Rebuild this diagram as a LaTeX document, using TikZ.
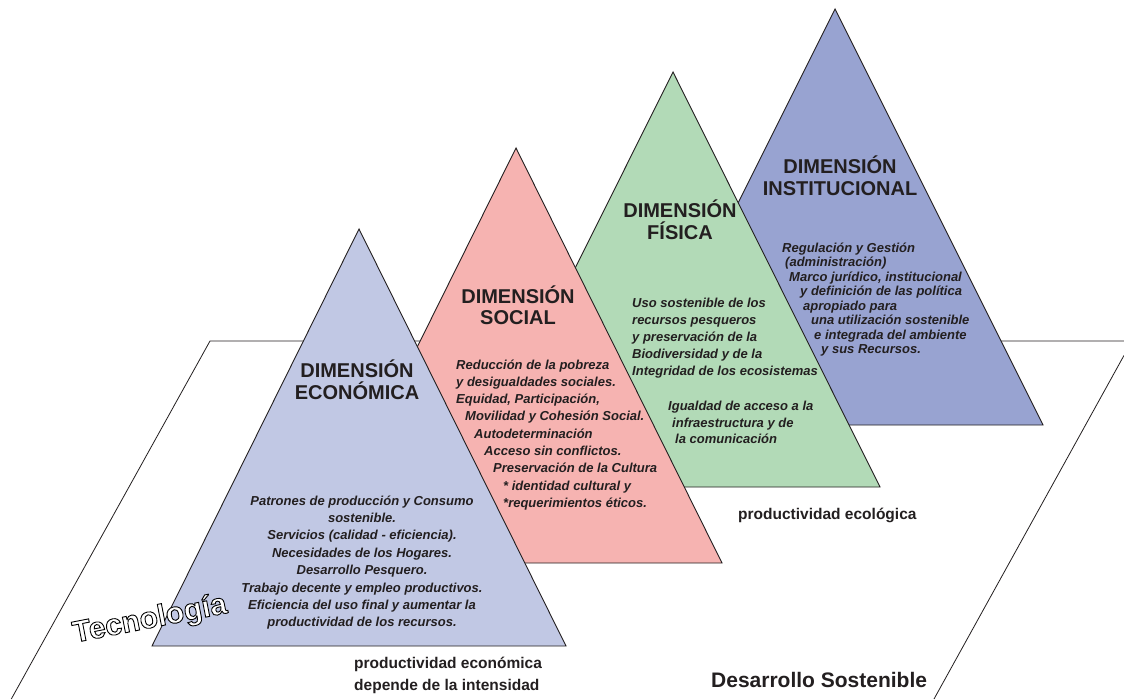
\documentclass[tikz,border=0pt]{standalone}
\usepackage{fontspec}
\setmainfont{Liberation Sans}
\definecolor{ink}{HTML}{231F20}
\definecolor{econ}{HTML}{C1C8E4}
\definecolor{soc}{HTML}{F6B3B1}
\definecolor{fis}{HTML}{B2DAB7}
\definecolor{inst}{HTML}{98A3D1}
\newcommand{\outlinetext}[1]{{\color{white}\special{pdf:literal direct 2 Tr 0.9 w 0 G}#1\special{pdf:literal direct 0 Tr}}}
\begin{document}
\begin{tikzpicture}[x=1pt,y=-1pt,
  tri/.style={draw=ink, line width=0.9pt, line join=miter},
  plane/.style={draw=ink, line width=0.8pt},
  ttl/.style={font=\bfseries\fontsize{20}{21}\selectfont, text=ink, inner sep=0pt, anchor=base},
  body/.style={font=\bfseries\itshape\fontsize{13}{16}\selectfont, text=ink, inner sep=0pt, anchor=base west},
  bodyc/.style={body, anchor=base},
  lbl/.style={font=\bfseries\fontsize{15.5}{18}\selectfont, text=ink, inner sep=0pt, anchor=base west},
  big/.style={font=\bfseries\fontsize{21}{24}\selectfont, text=ink, inner sep=0pt, anchor=base west}]
\useasboundingbox (0,0) rectangle (1124,699);
\fill[white] (0,0) rectangle (1124,699);
% ground plane
\draw[plane] (11.3,699) -- (210,341) -- (1124,341);
\draw[plane] (1124,355.4) -- (934,699);
% triangles (back to front)
\filldraw[tri, fill=inst] (835,9) -- (1043,425) -- (627,425) -- cycle;
\filldraw[tri, fill=fis] (673,72) -- (880,487) -- (466,487) -- cycle;
\filldraw[tri, fill=soc] (516,148) -- (722,563) -- (310,563) -- cycle;
\filldraw[tri, fill=econ] (359,229) -- (566,646) -- (152,646) -- cycle;
% titles
\node[ttl] (tinst1) at (840,173.5) {DIMENSIÓN};
\node[ttl] (tinst2) at (840,195.5) {INSTITUCIONAL};
\node[ttl] (tfis1) at (680,217.5) {DIMENSIÓN};
\node[ttl] (tfis2) at (680,239.5) {FÍSICA};
\node[ttl] (tsoc1) at (518,303) {DIMENSIÓN};
\node[ttl] (tsoc2) at (518,324) {SOCIAL};
\node[ttl] (teco1) at (357,377) {DIMENSIÓN};
\node[ttl] (teco2) at (357,399) {ECONÓMICA};
% institucional body
\foreach \x/\t [count=\i from 0] in {782/Regulación y Gestión, 785/(administración), 789/{Marco jurídico, institucional}, 800/y definición de las política, 803/apropiado para, 811/una utilización sostenible, 814/e integrada del ambiente, 821/y sus Recursos.}
  \node[body] (binst\i) at (\x,{252+14.5*\i}) {\t};
% fisica body
\foreach \x/\y/\t [count=\i from 0] in {632/307/Uso sostenible de los, 632/324.2/recursos pesqueros, 632/341.4/y preservación de la, 632/358.6/Biodiversidad y de la, 632/375.8/Integridad de los ecosistemas, 668/410/Igualdad de acceso a la, 672/427/infraestructura y de, 675/443.5/la comunicación}
  \node[body] (bfis\i) at (\x,\y) {\t};
% social body
\foreach \x/\t [count=\i from 0] in {456/Reducción de la pobreza, 456/y desigualdades sociales., 456/{Equidad, Participación,}, 465/Movilidad y Cohesión Social., 474/Autodeterminación, 484/Acceso sin conflictos., 493/Preservación de la Cultura, 503/* identidad cultural y, 503/*requerimientos éticos.}
  \node[body] (bsoc\i) at (\x,{369+17.3*\i}) {\t};
% economic body
\foreach \t [count=\i from 0] in {Patrones de producción y Consumo, sostenible., Servicios (calidad - eficiencia)., Necesidades de los Hogares., Desarrollo Pesquero., Trabajo decente y empleo productivos., Eficiencia del uso final y aumentar la, productividad de los recursos.}
  \node[bodyc] (beco\i) at (362,{505+17.4*\i}) {\t};
% labels
\node[lbl] (pecol) at (738,519) {productividad ecológica};
\node[lbl] (pecon1) at (354,668) {productividad económica};
\node[lbl] (pecon2) at (354,690) {depende de la intensidad};
\node[big] (dsost) at (711,687) {Desarrollo Sostenible};
\node[font=\bfseries\fontsize{30}{31}\selectfont, inner sep=0pt, rotate=11] (tecno) at (150,620) {\outlinetext{Tecnología}};
\end{tikzpicture}
\end{document}
